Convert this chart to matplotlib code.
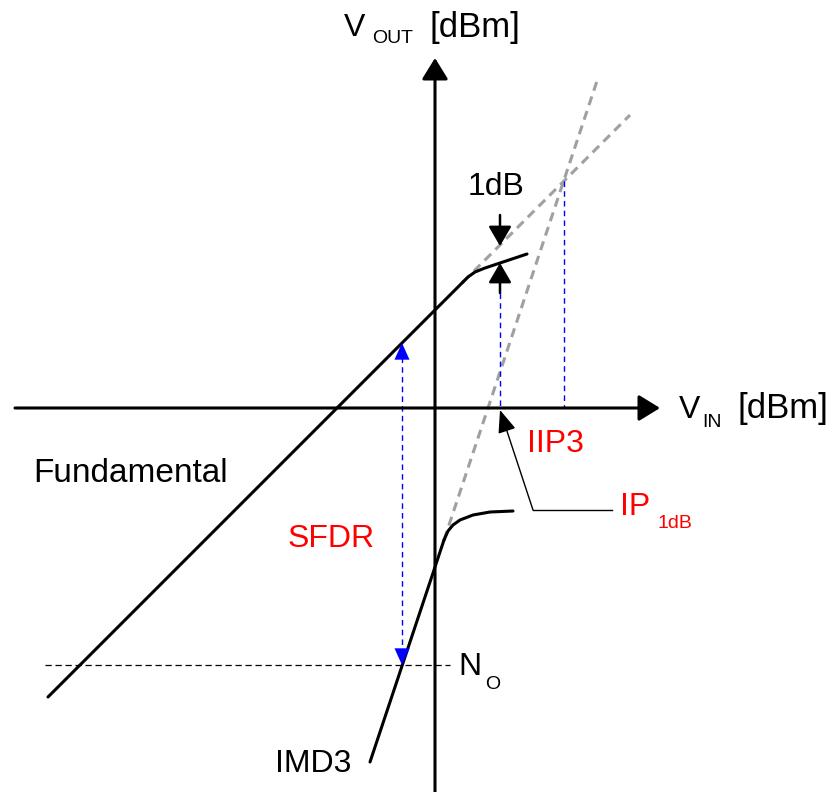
import matplotlib.pyplot as plt

plt.rcParams['font.family'] = ['Liberation Sans', 'DejaVu Sans']

# curve nodes, x = input level, y = output level (arbitrary dB units, origin at axis crossing)
fund_lin_x = [-387, 28]
fund_lin_y = [-289, 126]
fund_comp_x = [28, 33, 40, 50, 65, 80, 92]
fund_comp_y = [126, 131, 136, 140, 145, 150, 154]
fund_ext_x = [28, 195]
fund_ext_y = [126, 293]

imd_lin_x = [-65, 9]
imd_lin_y = [-354, -132]
imd_comp_x = [9, 13, 18, 25, 38, 55, 78]
imd_comp_y = [-132, -123, -117, -112, -107, -104, -103]
imd_ext_x = [9, 163]
imd_ext_y = [-132, 330]

noise_floor = -257
sfdr_x = -33
sfdr_top = 65
iip3_x, iip3_y = 129, 227
ip1db_x = 65
ip1db_lin, ip1db_comp = 162, 145

fig = plt.figure(figsize=(8.37, 7.92), dpi=100)
ax = fig.add_axes([0, 0, 1, 1])
ax.set_xlim(-435, 402)
ax.set_ylim(-384, 408)
ax.axis('off')

black_head = dict(arrowstyle='-|>,head_length=0.65,head_width=0.4', color='black',
                  lw=2.2, mutation_scale=20, shrinkA=0, shrinkB=0)

# axes with arrows
ax.annotate('', xy=(0, 350), xytext=(0, -384), arrowprops=black_head)
ax.annotate('', xy=(225, 0), xytext=(-420, 0), arrowprops=black_head)

# extrapolated lines
dash = dict(color='#A0A0A0', lw=2.2, dashes=(3, 2))
ax.plot(fund_ext_x, fund_ext_y, **dash)
ax.plot(imd_ext_x, imd_ext_y, **dash)

# fundamental and third-order products
ax.plot(fund_lin_x, fund_lin_y, color='black', lw=2.2, solid_capstyle='round')
ax.plot(fund_comp_x, fund_comp_y, color='black', lw=2.2, solid_capstyle='round')
ax.plot(imd_lin_x, imd_lin_y, color='black', lw=2.2, solid_capstyle='round')
ax.plot(imd_comp_x, imd_comp_y, color='black', lw=2.2, solid_capstyle='round')

# noise floor
ax.plot([-390, 15], [noise_floor, noise_floor], color='black', lw=0.9, dashes=(5, 3))

# projections onto the input axis
blue = dict(color='#0000FF', lw=1.0, dashes=(4, 3))
ax.plot([iip3_x, iip3_x], [iip3_y, 0], **blue)
ax.plot([ip1db_x, ip1db_x], [115, 0], **blue)

# SFDR double arrow
ax.plot([sfdr_x, sfdr_x], [sfdr_top - 14, noise_floor + 14], **blue)
blue_head = dict(arrowstyle='-|>,head_length=0.6,head_width=0.27', color='#0000FF',
                 lw=0.01, mutation_scale=20, shrinkA=0, shrinkB=0)
ax.annotate('', xy=(sfdr_x, sfdr_top), xytext=(sfdr_x, sfdr_top - 15), arrowprops=blue_head)
ax.annotate('', xy=(sfdr_x, noise_floor), xytext=(sfdr_x, noise_floor + 15), arrowprops=blue_head)

# 1dB compression arrows
small_head = dict(arrowstyle='-|>,head_length=0.6,head_width=0.35', color='black',
                  lw=1.8, mutation_scale=20, shrinkA=0, shrinkB=0)
ax.annotate('', xy=(ip1db_x, ip1db_lin), xytext=(ip1db_x, 193), arrowprops=small_head)
ax.annotate('', xy=(ip1db_x, ip1db_comp), xytext=(ip1db_x, 115), arrowprops=small_head)

# IP1dB leader
ax.plot([177, 98], [-102, -102], color='black', lw=1.0)
ax.annotate('', xy=(ip1db_x, -2), xytext=(98, -102),
            arrowprops=dict(arrowstyle='-|>,head_length=0.7,head_width=0.28', color='black',
                            lw=1.0, mutation_scale=20, shrinkA=0, shrinkB=0))

# labels
txt = dict(ha='left', va='baseline', color='black')
ax.text(-91, 372, 'V', fontsize=23, **txt)
ax.text(-63, 365, 'OUT', fontsize=14, **txt)
ax.text(-5, 371, '[dBm]', fontsize=25, **txt)

ax.text(244, -10, 'V', fontsize=23, **txt)
ax.text(267, -19, 'IN', fontsize=14, **txt)
ax.text(303, -10, '[dBm]', fontsize=25, **txt)

ax.text(33, 213, '1dB', fontsize=23, **txt)
ax.text(-402, -74, 'Fundamental', fontsize=24, **txt)
ax.text(-160, -364, 'IMD3', fontsize=23, **txt)
ax.text(23, -267, 'N', fontsize=23, **txt)
ax.text(50, -281, 'O', fontsize=14, **txt)

red = dict(ha='left', va='baseline', color='#FF0000')
ax.text(92, -44, 'IIP3', fontsize=23, **red)
ax.text(-147, -139, 'SFDR', fontsize=23, **red)
ax.text(185, -107, 'IP', fontsize=23, **red)
ax.text(223, -120, '1dB', fontsize=14, **red)

fig.savefig('out.png', dpi=100)
